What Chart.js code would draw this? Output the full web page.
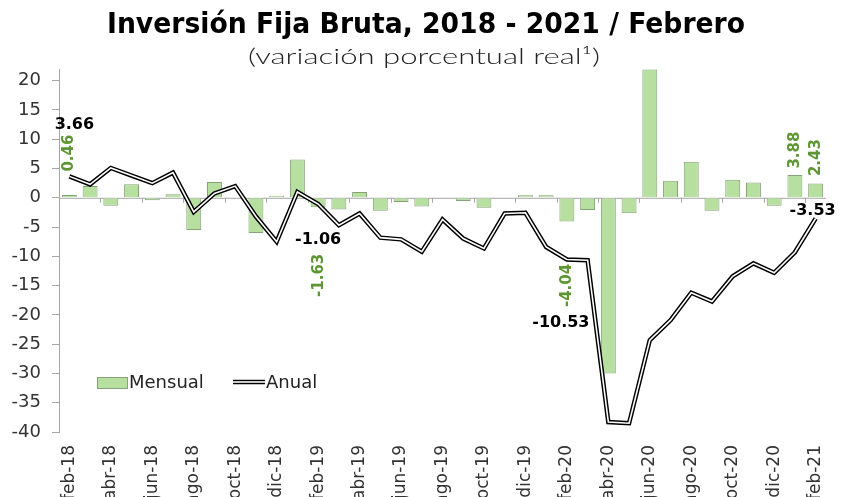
<!DOCTYPE html>
<html>
<head>
<meta charset="utf-8">
<script src="https://cdn.jsdelivr.net/npm/chart.js@4.4.1/dist/chart.umd.min.js"></script>
<style>
  html, body { margin: 0; padding: 0; background: #fff; }
</style>
</head>
<body>
<canvas id="grafica" width="843" height="497"></canvas>
<script>
// datos
const meses = ['feb-18','mar-18','abr-18','may-18','jun-18','jul-18','ago-18','sep-18','oct-18','nov-18','dic-18','ene-19',
  'feb-19','mar-19','abr-19','may-19','jun-19','jul-19','ago-19','sep-19','oct-19','nov-19','dic-19','ene-20',
  'feb-20','mar-20','abr-20','may-20','jun-20','jul-20','ago-20','sep-20','oct-20','nov-20','dic-20','ene-21','feb-21'];

const mensual = [0.46, 2.0, -1.35, 2.3, -0.4, 0.6, -5.5, 2.7, 0.05, -6.0, 0.35, 6.55,
  -1.63, -2.0, 1.0, -2.2, -0.7, -1.5, -0.1, -0.55, -1.7, -0.1, 0.45, 0.45,
  -4.04, -2.1, -30.0, -2.65, 21.9, 2.9, 6.15, -2.2, 3.1, 2.6, -1.35, 3.88, 2.43];

const anual = [3.66, 2.3, 5.1, 3.8, 2.5, 4.3, -2.4, 0.75, 2.0, -3.2, -7.5, 1.0,
  -1.06, -4.67, -2.67, -6.8, -7.1, -9.2, -3.7, -6.95, -8.65, -2.67, -2.55, -8.4,
  -10.53, -10.65, -38.3, -38.5, -24.3, -20.9, -16.2, -17.7, -13.4, -11.2, -12.8, -9.3, -3.53];

const ticksY = [-40, -35, -30, -25, -20, -15, -10, -5, 0, 5, 10, 15, 20];

// etiquetas de datos (indice y desplazamiento en px)
const etiqAnual = [0, 12, 24, 36];
const despAnual = [[5, -52], [0, 36], [-6, 63], [-3, -8]];
const etiqMensual = [0, 12, 24, 35, 36];
const despMensual = [[0, -42], [1, 68], [0, 64], [0, -25], [0, -26]];

const fuente = 'DejaVu Sans';
const verde = '#5e9633';

// texto ajustado a un ancho dado
function textoAncho(ctx, txt, x, y, ancho) {
  const w = ctx.measureText(txt).width;
  ctx.save();
  ctx.translate(x, y);
  ctx.scale(ancho / w, 1);
  ctx.textAlign = 'center';
  ctx.fillText(txt, 0, 0);
  ctx.restore();
}

const extras = {
  id: 'extras',
  beforeDatasetsDraw(chart) {
    const { ctx, chartArea, scales } = chart;
    const y0 = scales.y.getPixelForValue(0);
    const paso = scales.x.getPixelForValue(1) - scales.x.getPixelForValue(0);
    ctx.save();
    ctx.strokeStyle = '#a6a6a6';
    ctx.lineWidth = 1;
    ctx.beginPath();
    ctx.moveTo(chartArea.left, y0 + 0.5);
    ctx.lineTo(chartArea.right, y0 + 0.5);
    for (let i = 0; i < meses.length; i += 2) {
      const x = Math.round(scales.x.getPixelForValue(i) - paso / 2) + 0.5;
      ctx.moveTo(x, y0);
      ctx.lineTo(x, y0 + 5);
    }
    ctx.stroke();
    ctx.restore();
  },
  afterDraw(chart) {
    const { ctx, scales } = chart;
    ctx.save();
    // titulo
    ctx.fillStyle = '#000';
    ctx.textBaseline = 'alphabetic';
    ctx.font = 'bold 28px "' + fuente + '"';
    textoAncho(ctx, 'Inversión Fija Bruta, 2018 - 2021 / Febrero', 426, 33, 638);
    ctx.fillStyle = '#222';
    ctx.font = '300 22px Lato, "' + fuente + '"';
    textoAncho(ctx, '(variación porcentual real¹)', 424, 64, 352);

    // etiquetas de la linea
    ctx.fillStyle = '#000';
    ctx.font = 'bold 16px "' + fuente + '"';
    ctx.textAlign = 'center';
    ctx.textBaseline = 'middle';
    etiqAnual.forEach((i, k) => {
      const x = scales.x.getPixelForValue(i) + despAnual[k][0];
      const y = scales.y.getPixelForValue(anual[i]) + despAnual[k][1];
      ctx.fillText(anual[i].toFixed(2), x, y);
    });
    // etiquetas de barras (verticales)
    ctx.fillStyle = verde;
    ctx.font = 'bold 15px "' + fuente + '"';
    etiqMensual.forEach((i, k) => {
      const x = scales.x.getPixelForValue(i) + despMensual[k][0];
      const y = scales.y.getPixelForValue(mensual[i]) + despMensual[k][1];
      ctx.save();
      ctx.translate(x, y);
      ctx.rotate(-Math.PI / 2);
      ctx.fillText(mensual[i].toFixed(2), 0, 0);
      ctx.restore();
    });

    // leyenda
    ctx.fillStyle = '#b7dfa0';
    ctx.fillRect(97, 377, 30, 11);
    ctx.strokeStyle = '#86a277';
    ctx.lineWidth = 1;
    ctx.strokeRect(97.5, 377.5, 30, 11);
    ctx.fillStyle = '#222';
    ctx.font = '18px "' + fuente + '"';
    ctx.textAlign = 'left';
    ctx.fillText('Mensual', 129, 383);
    ctx.strokeStyle = '#000';
    ctx.lineWidth = 4.5;
    ctx.beginPath();
    ctx.moveTo(233, 382);
    ctx.lineTo(265, 382);
    ctx.stroke();
    ctx.strokeStyle = '#fff';
    ctx.lineWidth = 1.6;
    ctx.stroke();
    ctx.fillText('Anual', 266, 383);
    ctx.restore();
  }
};

new Chart(document.getElementById('grafica').getContext('2d'), {
  type: 'bar',
  data: {
    labels: meses,
    datasets: [
      {
        type: 'line',
        label: 'Anual (centro)',
        data: anual,
        borderColor: '#ffffff',
        borderWidth: 1.6,
        pointRadius: 0,
        tension: 0,
        order: 0
      },
      {
        type: 'line',
        label: 'Anual',
        data: anual,
        borderColor: '#000000',
        borderWidth: 4.5,
        pointRadius: 0,
        tension: 0,
        order: 1
      },
      {
        label: 'Mensual',
        data: mensual,
        backgroundColor: '#b7dfa0',
        borderColor: '#86a277',
        borderWidth: 1,
        barPercentage: 0.72,
        categoryPercentage: 1,
        order: 2
      }
    ]
  },
  options: {
    responsive: false,
    devicePixelRatio: 1,
    animation: false,
    layout: { padding: { top: 69, right: 17, left: 0, bottom: 0 } },
    plugins: {
      legend: { display: false },
      title: { display: false },
      tooltip: { enabled: false }
    },
    scales: {
      x: {
        offset: true,
        grid: { display: false },
        border: { display: false },
        ticks: {
          autoSkip: false,
          minRotation: 90,
          maxRotation: 90,
          padding: 5,
          color: '#333',
          font: { family: fuente, size: 17 },
          callback: (v, i) => (i % 2 === 0 ? meses[i] : '')
        },
        afterFit: s => { s.height = 65; }
      },
      y: {
        min: -40,
        max: 22,
        afterBuildTicks: s => { s.ticks = ticksY.map(v => ({ value: v })); },
        grid: { drawOnChartArea: false, color: '#a6a6a6', tickLength: 7 },
        border: { color: '#a6a6a6' },
        ticks: {
          padding: 11,
          color: '#333',
          font: { family: fuente, size: 18 }
        },
        afterFit: s => { s.width = 59; }
      }
    }
  },
  plugins: [extras]
});
</script>
</body>
</html>
